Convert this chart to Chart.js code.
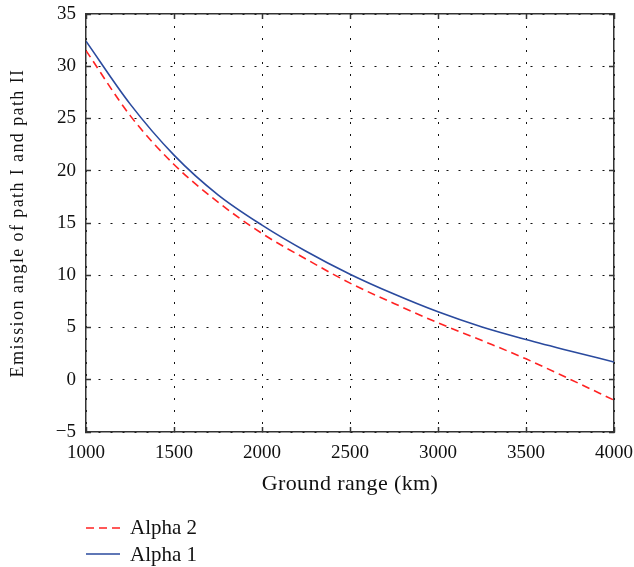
<!DOCTYPE html>
<html>
<head>
<meta charset="utf-8">
<script src="https://cdn.jsdelivr.net/npm/chart.js@4/dist/chart.umd.min.js"></script>
<style>
  html, body { margin: 0; padding: 0; background: #fff; }
  #wrap { position: relative; width: 634px; height: 567px; }
  #chart { position: absolute; left: 0; top: 0; }
  #legend { position: absolute; left: 86px; top: 514.4px; font-family: "Liberation Serif", serif; font-size: 21px; color: #111; }
  .item { display: flex; align-items: center; height: 26.6px; white-space: nowrap; }
  .item svg { margin-right: 10px; display: block; }
</style>
</head>
<body>
<div id="wrap">
  <canvas id="chart" width="634" height="567"></canvas>
  <div id="legend"></div>
</div>
<script>
// ---- data ----
const groundRange = [1000, 1250, 1500, 1750, 2000, 2250, 2500, 2750, 3000, 3250, 3500, 3750, 4000];
const alpha1 = [32.4, 26.4, 21.5, 17.7, 14.8, 12.3, 10.1, 8.2, 6.5, 5.05, 3.85, 2.75, 1.7];
const alpha2 = [31.5, 25.3, 20.6, 17.0, 14.0, 11.55, 9.25, 7.3, 5.45, 3.75, 2.0, 0.05, -1.95];
const seriesNames = ['Alpha 2', 'Alpha 1'];
const xTickValues = [1000, 1500, 2000, 2500, 3000, 3500, 4000];
const yTickValues = [-5, 0, 5, 10, 15, 20, 25, 30, 35];
const xTitle = 'Ground range (km)';
const yTitle = 'Emission angle of path I and path II';

Chart.defaults.font.family = '"Liberation Serif", "Times New Roman", serif';
Chart.defaults.color = '#111';

const toPoints = (ys) => groundRange.map((x, i) => ({ x: x, y: ys[i] }));
const fmt = (v) => String(v).replace('-', '\u2212');

const axisColor = '#333';
const gridColor = '#111';

const noPad = (s) => { s.paddingTop = 0; s.paddingBottom = 0; s.paddingLeft = 0; s.paddingRight = 0; };

const titleSpacing = {
  id: 'titleSpacing',
  beforeDraw(chart) {
    [['x', '0.4px'], ['y', '1.4px']].forEach(([id, ls]) => {
      const s = chart.scales[id];
      if (s && !s._lsPatched) {
        const orig = s.drawTitle;
        s.drawTitle = function () {
          const c = this.ctx; c.save();
          try { c.letterSpacing = ls; } catch (e) {}
          orig.call(this); c.restore();
        };
        s._lsPatched = true;
      }
    });
  }
};

const htmlLegend = {
  id: 'htmlLegend',
  afterUpdate(chart) {
    const box = document.getElementById('legend');
    box.innerHTML = '';
    chart.data.datasets.forEach((ds) => {
      const item = document.createElement('div');
      item.className = 'item';
      const ns = 'http://www.w3.org/2000/svg';
      const svg = document.createElementNS(ns, 'svg');
      svg.setAttribute('width', '34'); svg.setAttribute('height', '4');
      const ln = document.createElementNS(ns, 'line');
      ln.setAttribute('x1', '0'); ln.setAttribute('x2', '34');
      ln.setAttribute('y1', '2'); ln.setAttribute('y2', '2');
      ln.setAttribute('stroke', ds.borderColor);
      ln.setAttribute('stroke-width', '1.6');
      if (ds.borderDash && ds.borderDash.length) ln.setAttribute('stroke-dasharray', ds.borderDash.join(','));
      svg.appendChild(ln);
      const txt = document.createElement('span');
      txt.textContent = ds.label;
      item.appendChild(svg); item.appendChild(txt);
      box.appendChild(item);
    });
  }
};

const edgeAxis = (position) => ({
  type: 'linear',
  position: position,
  min: position === 'top' ? 1000 : -5,
  max: position === 'top' ? 4000 : 35,
  afterBuildTicks: (s) => { s.ticks = (position === 'top' ? xTickValues : yTickValues).map(v => ({ value: v })); },
  afterFit: (s) => { if (position === 'top') s.height = 0; else s.width = 0; noPad(s); },
  ticks: { display: false },
  grid: { drawOnChartArea: false, drawTicks: true, tickLength: -5, tickColor: axisColor, tickWidth: 1.5 },
  border: { display: true, color: axisColor, width: 1.5 }
});

new Chart(document.getElementById('chart'), {
  type: 'line',
  data: {
    datasets: [
      { label: seriesNames[0], data: toPoints(alpha2), borderColor: '#ff2222', borderWidth: 1.6, borderDash: [8, 5], pointRadius: 0, cubicInterpolationMode: 'monotone', fill: false, xAxisID: 'x', yAxisID: 'y' },
      { label: seriesNames[1], data: toPoints(alpha1), borderColor: '#2a4a9e', borderWidth: 1.6, pointRadius: 0, cubicInterpolationMode: 'monotone', fill: false, xAxisID: 'x', yAxisID: 'y' }
    ]
  },
  options: {
    responsive: false,
    animation: false,
    events: [],
    layout: { padding: { left: 0, right: 20, top: 14, bottom: 65 } },
    plugins: { legend: { display: false }, tooltip: { enabled: false } },
    scales: {
      x: {
        type: 'linear', position: 'bottom', min: 1000, max: 4000,
        afterBuildTicks: (s) => { s.ticks = xTickValues.map(v => ({ value: v })); },
        afterFit: (s) => { s.height = 70; noPad(s); },
        ticks: { font: { size: 19 }, color: '#111', padding: 15, maxRotation: 0, autoSkip: false, callback: fmt },
        grid: { color: gridColor, lineWidth: 1, drawTicks: true, tickLength: -5, tickColor: axisColor, tickWidth: 1.5 },
        border: { display: true, color: axisColor, width: 1.5, dash: [2, 10] },
        title: { display: true, text: xTitle, font: { size: 22 }, color: '#111', padding: { top: 0, bottom: 5 } }
      },
      y: {
        type: 'linear', position: 'left', min: -5, max: 35,
        afterBuildTicks: (s) => { s.ticks = yTickValues.map(v => ({ value: v })); },
        afterFit: (s) => { s.width = 86; noPad(s); },
        ticks: { font: { size: 19 }, color: '#111', padding: 15, autoSkip: false, callback: fmt },
        grid: { color: gridColor, lineWidth: 1, drawTicks: true, tickLength: -5, tickColor: axisColor, tickWidth: 1.5 },
        border: { display: true, color: axisColor, width: 1.5, dash: [2, 10] },
        title: { display: true, text: yTitle, font: { size: 18 }, color: '#111', padding: { top: 7, bottom: 0 } }
      },
      x2: edgeAxis('top'),
      y2: edgeAxis('right')
    }
  },
  plugins: [titleSpacing, htmlLegend]
});
</script>
</body>
</html>
